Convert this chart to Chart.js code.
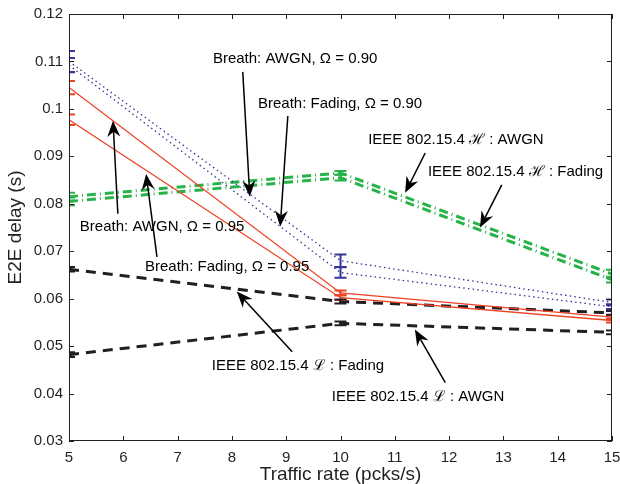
<!DOCTYPE html>
<html>
<head>
<meta charset="utf-8">
<script src="https://cdn.jsdelivr.net/npm/chart.js@4"></script>
<style>
  html, body { margin: 0; padding: 0; background: #fff; }
  #wrap { width: 620px; height: 484px; }
</style>
</head>
<body>
<div id="wrap"><canvas id="delay-chart" width="620" height="484"></canvas></div>
<script>
// Traffic rates on the x axis
const rates = [5, 10, 15];

// E2E delay (s) per scheme, with half-width of the error bars
const breathAwgn90 = [0.1100, 0.0680, 0.0592];
const breathAwgn90Err = [0.0022, 0.0013, 0.0006];
const breathFading90 = [0.1092, 0.0655, 0.0583];
const breathFading90Err = [0.0015, 0.0011, 0.0005];
const breathAwgn95 = [0.1045, 0.0612, 0.0561];
const breathAwgn95Err = [0.0014, 0.0005, 0.0004];
const breathFading95 = [0.0977, 0.0602, 0.0554];
const breathFading95Err = [0.0011, 0.0005, 0.0004];
const ieeeHAwgn = [0.0815, 0.0865, 0.0652];
const ieeeHAwgnErr = [0.0008, 0.0004, 0.0009];
const ieeeHFading = [0.0805, 0.0855, 0.0640];
const ieeeHFadingErr = [0.0008, 0.0006, 0.0006];
const ieeeLFading = [0.0662, 0.0594, 0.0570];
const ieeeLFadingErr = [0.0005, 0.0004, 0.0004];
const ieeeLAwgn = [0.0482, 0.0548, 0.0529];
const ieeeLAwgnErr = [0.0005, 0.0004, 0.0004];

// Tick positions and labels
const xTicks = [5, 6, 7, 8, 9, 10, 11, 12, 13, 14, 15];
const xTickLabels = ['5', '6', '7', '8', '9', '10', '11', '12', '13', '14', '15'];
const yTicks = [0.03, 0.04, 0.05, 0.06, 0.07, 0.08, 0.09, 0.1, 0.11, 0.12];
const yTickLabels = ['0.03', '0.04', '0.05', '0.06', '0.07', '0.08', '0.09', '0.1', '0.11', '0.12'];

const INK = '#231f20';
const BLUE = '#34349a';
const RED = '#ef4123';
const GREEN = '#27b24a';
const FONT = '"Liberation Sans", Arial, Helvetica, sans-serif';

const series = [
  { label: 'Breath: AWGN, Ω = 0.90', values: breathAwgn90, err: breathAwgn90Err, color: BLUE, dash: [1.5, 3.2], width: 1.3 },
  { label: 'Breath: Fading, Ω = 0.90', values: breathFading90, err: breathFading90Err, color: BLUE, dash: [1.5, 3.2], width: 1.3 },
  { label: 'Breath: AWGN, Ω = 0.95', values: breathAwgn95, err: breathAwgn95Err, color: RED, dash: [], width: 1.3 },
  { label: 'Breath: Fading, Ω = 0.95', values: breathFading95, err: breathFading95Err, color: RED, dash: [], width: 1.3 },
  { label: 'IEEE 802.15.4 H: AWGN', values: ieeeHAwgn, err: ieeeHAwgnErr, color: GREEN, dash: [9, 4, 1, 4], width: 3 },
  { label: 'IEEE 802.15.4 H: Fading', values: ieeeHFading, err: ieeeHFadingErr, color: GREEN, dash: [9, 4, 1, 4], width: 3 },
  { label: 'IEEE 802.15.4 L: Fading', values: ieeeLFading, err: ieeeLFadingErr, color: INK, dash: [10, 7], width: 3 },
  { label: 'IEEE 802.15.4 L: AWGN', values: ieeeLAwgn, err: ieeeLAwgnErr, color: INK, dash: [10, 7], width: 3 }
];

// Callout labels: text anchor (left, middle) and arrow from -> tip, in data units
const callouts = [
  { text: 'Breath: AWGN, Ω = 0.90', at: [7.65, 0.1105], from: [8.20, 0.1078], tip: [8.33, 0.0815] },
  { text: 'Breath: Fading, Ω = 0.90', at: [8.48, 0.1010], from: [9.03, 0.0985], tip: [8.89, 0.0752] },
  { text: 'IEEE 802.15.4 ℋ : AWGN', at: [10.51, 0.0935], from: [11.56, 0.0907], tip: [11.19, 0.0823] },
  { text: 'IEEE 802.15.4 ℋ : Fading', at: [11.61, 0.0867], from: [12.97, 0.0840], tip: [12.57, 0.0750] },
  { text: 'Breath: AWGN, Ω = 0.95', at: [5.20, 0.0752], from: [5.90, 0.0779], tip: [5.81, 0.0975] },
  { text: 'Breath: Fading, Ω = 0.95', at: [6.40, 0.0667], from: [6.62, 0.0688], tip: [6.42, 0.0863] },
  { text: 'IEEE 802.15.4 ℒ : Fading', at: [7.63, 0.0459], from: [9.11, 0.0488], tip: [8.09, 0.0615] },
  { text: 'IEEE 802.15.4 ℒ : AWGN', at: [9.84, 0.0394], from: [11.93, 0.0423], tip: [11.37, 0.0535] }
];

// Vertical error bars with short caps, clipped to the plot box
const errorBars = {
  id: 'errorBars',
  afterDatasetsDraw(chart) {
    const { ctx, chartArea, scales: { x, y } } = chart;
    ctx.save();
    ctx.beginPath();
    ctx.rect(chartArea.left, chartArea.top, chartArea.right - chartArea.left, chartArea.bottom - chartArea.top);
    ctx.clip();
    series.forEach(s => {
      ctx.strokeStyle = s.color;
      ctx.lineWidth = 2;
      ctx.setLineDash([]);
      rates.forEach((r, i) => {
        const px = x.getPixelForValue(r);
        const top = y.getPixelForValue(s.values[i] + s.err[i]);
        const bot = y.getPixelForValue(s.values[i] - s.err[i]);
        ctx.beginPath();
        ctx.moveTo(px, top); ctx.lineTo(px, bot);
        ctx.moveTo(px - 6, top); ctx.lineTo(px + 6, top);
        ctx.moveTo(px - 6, bot); ctx.lineTo(px + 6, bot);
        ctx.stroke();
      });
    });
    ctx.restore();
  }
};

// Box around the plot with inward tick marks on all four sides
const frame = {
  id: 'frame',
  afterDatasetsDraw(chart) {
    const { ctx, chartArea: a, scales: { x, y } } = chart;
    const len = 5;
    ctx.save();
    ctx.strokeStyle = INK;
    ctx.lineWidth = 1;
    ctx.setLineDash([]);
    ctx.strokeRect(a.left + 0.5, a.top + 0.5, a.right - a.left - 1, a.bottom - a.top - 1);
    ctx.beginPath();
    xTicks.forEach(v => {
      const px = Math.round(x.getPixelForValue(v)) + 0.5;
      ctx.moveTo(px, a.bottom); ctx.lineTo(px, a.bottom - len);
      ctx.moveTo(px, a.top); ctx.lineTo(px, a.top + len);
    });
    yTicks.forEach(v => {
      const py = Math.round(y.getPixelForValue(v)) + 0.5;
      ctx.moveTo(a.left, py); ctx.lineTo(a.left + len, py);
      ctx.moveTo(a.right, py); ctx.lineTo(a.right - len, py);
    });
    ctx.stroke();
    ctx.restore();
  }
};

function drawArrow(ctx, x0, y0, x1, y1) {
  const ang = Math.atan2(y1 - y0, x1 - x0);
  const headLen = 16, headHalf = 6.5, notch = 11;
  ctx.beginPath();
  ctx.moveTo(x0, y0);
  ctx.lineTo(x1 - Math.cos(ang) * notch, y1 - Math.sin(ang) * notch);
  ctx.stroke();
  const bx = x1 - Math.cos(ang) * headLen;
  const by = y1 - Math.sin(ang) * headLen;
  const nx = -Math.sin(ang), ny = Math.cos(ang);
  ctx.beginPath();
  ctx.moveTo(x1, y1);
  ctx.lineTo(bx + nx * headHalf, by + ny * headHalf);
  ctx.lineTo(x1 - Math.cos(ang) * notch, y1 - Math.sin(ang) * notch);
  ctx.lineTo(bx - nx * headHalf, by - ny * headHalf);
  ctx.closePath();
  ctx.fill();
}

const annotations = {
  id: 'annotations',
  afterDraw(chart) {
    const { ctx, scales: { x, y } } = chart;
    ctx.save();
    ctx.fillStyle = '#000';
    ctx.strokeStyle = '#000';
    ctx.lineWidth = 1.5;
    ctx.setLineDash([]);
    ctx.font = '15px ' + FONT;
    ctx.textAlign = 'left';
    ctx.textBaseline = 'middle';
    callouts.forEach(c => {
      ctx.fillText(c.text, x.getPixelForValue(c.at[0]), y.getPixelForValue(c.at[1]));
      drawArrow(ctx,
        x.getPixelForValue(c.from[0]), y.getPixelForValue(c.from[1]),
        x.getPixelForValue(c.tip[0]), y.getPixelForValue(c.tip[1]));
    });
    ctx.restore();
  }
};

const datasets = series.map(s => ({
  label: s.label,
  data: rates.map((r, i) => ({ x: r, y: s.values[i] })),
  borderColor: s.color,
  borderWidth: s.width,
  borderDash: s.dash,
  borderCapStyle: 'butt',
  pointRadius: 0,
  tension: 0,
  fill: false
}));

new Chart(document.getElementById('delay-chart'), {
  type: 'line',
  data: { datasets },
  options: {
    responsive: false,
    animation: false,
    events: [],
    layout: { padding: { top: 14, right: 8, left: 0, bottom: 0 } },
    plugins: { legend: { display: false }, tooltip: { enabled: false } },
    scales: {
      x: {
        type: 'linear',
        min: 5,
        max: 15,
        afterBuildTicks: s => { s.ticks = xTicks.map(v => ({ value: v })); },
        afterFit: s => { s.height = 43; s.paddingLeft = 0; s.paddingRight = 0; },
        grid: { display: false, drawTicks: false },
        border: { display: false },
        ticks: {
          autoSkip: false,
          maxRotation: 0,
          padding: 8,
          color: INK,
          font: { family: FONT, size: 15 },
          callback: (v, i) => xTickLabels[i]
        },
        title: {
          display: true,
          text: 'Traffic rate (pcks/s)',
          color: INK,
          font: { family: FONT, size: 19, lineHeight: 1 },
          padding: { top: 0, bottom: 0 }
        }
      },
      y: {
        min: 0.03,
        max: 0.12,
        afterBuildTicks: s => { s.ticks = yTicks.map(v => ({ value: v })); },
        afterFit: s => { s.width = 69; s.paddingTop = 0; s.paddingBottom = 0; },
        grid: { display: false, drawTicks: false },
        border: { display: false },
        ticks: {
          padding: 6,
          color: INK,
          font: { family: FONT, size: 15 },
          callback: (v, i) => yTickLabels[i]
        },
        title: {
          display: true,
          text: 'E2E delay (s)',
          color: INK,
          font: { family: FONT, size: 19, lineHeight: 1 },
          padding: { top: 6, bottom: 0 }
        }
      }
    }
  },
  plugins: [errorBars, frame, annotations]
});
</script>
</body>
</html>
